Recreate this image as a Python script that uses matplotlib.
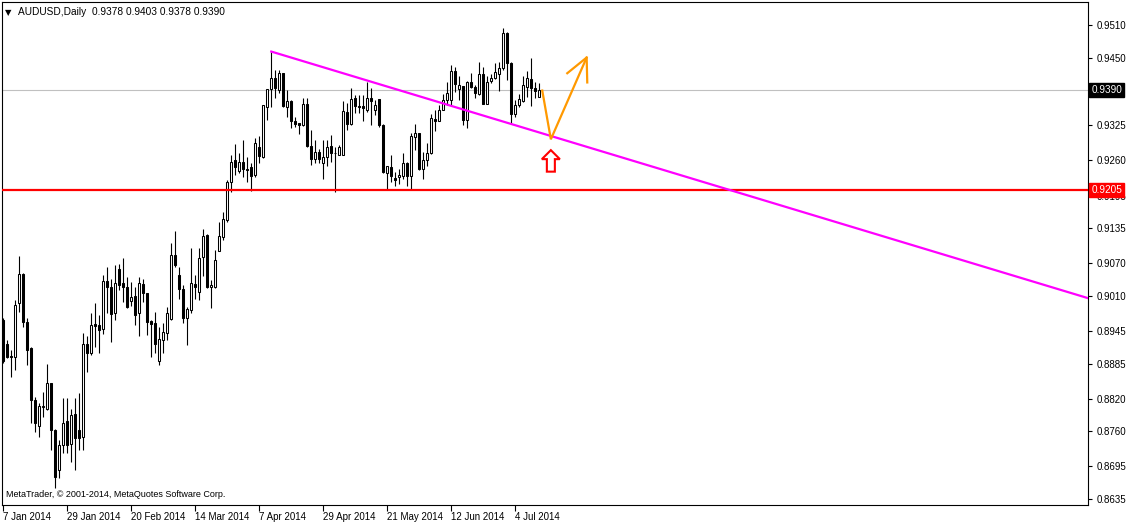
#!/usr/bin/env python3

from matplotlib.patches import Polygon
from matplotlib.pyplot import close, figure, savefig, setp
from matplotlib.transforms import blended_transform_factory

# AUDUSD daily bars, 7 Jan 2014 .. 14 Jul 2014 (one entry per trading day)
OPENS = [
    0.8965, 0.8921, 0.8899, 0.8897, 0.8996, 0.9050, 0.8962, 0.8913, 0.8818, 0.8770,
    0.8804, 0.8802, 0.8849, 0.8762, 0.8689, 0.8735, 0.8779, 0.8737, 0.8792, 0.8762,
    0.8749, 0.8922, 0.8905, 0.8958, 0.8956, 0.8948, 0.9038, 0.9027, 0.8978, 0.9059,
    0.9033, 0.9026, 0.9000, 0.9009, 0.8979, 0.9032, 0.9015, 0.8964, 0.8960, 0.8890,
    0.8929, 0.8942, 0.8967, 0.9085, 0.9049, 0.9022, 0.8970, 0.8984, 0.9032, 0.9018,
    0.9081, 0.9122, 0.9026, 0.9027, 0.9093, 0.9119, 0.9150, 0.9221, 0.9260, 0.9241,
    0.9258, 0.9245, 0.9247, 0.9233, 0.9285, 0.9267, 0.9359, 0.9391, 0.9412, 0.9390,
    0.9421, 0.9358, 0.9369, 0.9332, 0.9330, 0.9325, 0.9365, 0.9287, 0.9262, 0.9276,
    0.9255, 0.9267, 0.9287, 0.9274, 0.9270, 0.9270, 0.9350, 0.9327, 0.9375, 0.9360,
    0.9360, 0.9353, 0.9375, 0.9353, 0.9373, 0.9325, 0.9237, 0.9247, 0.9227, 0.9230,
    0.9231, 0.9256, 0.9231, 0.9304, 0.9310, 0.9244, 0.9260, 0.9273, 0.9336, 0.9333,
    0.9354, 0.9372, 0.9372, 0.9426, 0.9391, 0.9397, 0.9335, 0.9405, 0.9396, 0.9383,
    0.9420, 0.9365, 0.9407, 0.9413, 0.9420, 0.9430, 0.9495, 0.9440, 0.9346, 0.9362,
    0.9369, 0.9396, 0.9411, 0.9393, 0.9378,
]
HIGHS = [
    0.8970, 0.8929, 0.8910, 0.9002, 0.9084, 0.9052, 0.8969, 0.8915, 0.8824, 0.8812,
    0.8833, 0.8884, 0.8850, 0.8765, 0.8744, 0.8821, 0.8821, 0.8802, 0.8821, 0.8830,
    0.8941, 0.8935, 0.8978, 0.8996, 0.8975, 0.9048, 0.9064, 0.9042, 0.9067, 0.9069,
    0.9079, 0.9045, 0.9036, 0.9027, 0.9045, 0.9042, 0.9016, 0.8965, 0.8981, 0.8953,
    0.8959, 0.8990, 0.9108, 0.9129, 0.9064, 0.9030, 0.8990, 0.9098, 0.9049, 0.9098,
    0.9133, 0.9125, 0.9039, 0.9095, 0.9147, 0.9165, 0.9224, 0.9270, 0.9290, 0.9274,
    0.9298, 0.9267, 0.9255, 0.9301, 0.9305, 0.9362, 0.9391, 0.9461, 0.9427, 0.9427,
    0.9422, 0.9390, 0.9372, 0.9341, 0.9330, 0.9376, 0.9375, 0.9316, 0.9298, 0.9282,
    0.9298, 0.9298, 0.9307, 0.9285, 0.9288, 0.9369, 0.9366, 0.9393, 0.9381, 0.9381,
    0.9381, 0.9405, 0.9393, 0.9372, 0.9373, 0.9328, 0.9250, 0.9270, 0.9239, 0.9245,
    0.9273, 0.9258, 0.9311, 0.9327, 0.9311, 0.9276, 0.9292, 0.9346, 0.9353, 0.9362,
    0.9383, 0.9405, 0.9436, 0.9433, 0.9415, 0.9397, 0.9407, 0.9421, 0.9399, 0.9442,
    0.9433, 0.9415, 0.9420, 0.9440, 0.9442, 0.9504, 0.9498, 0.9442, 0.9372, 0.9383,
    0.9416, 0.9426, 0.9450, 0.9405, 0.9403,
]
LOWS = [
    0.8886, 0.8895, 0.8861, 0.8873, 0.8981, 0.8952, 0.8882, 0.8775, 0.8759, 0.8750,
    0.8787, 0.8800, 0.8726, 0.8655, 0.8673, 0.8719, 0.8719, 0.8704, 0.8689, 0.8726,
    0.8726, 0.8870, 0.8901, 0.8916, 0.8904, 0.8940, 0.8978, 0.8924, 0.8965, 0.9021,
    0.8999, 0.8987, 0.8991, 0.8956, 0.8935, 0.8999, 0.8938, 0.8898, 0.8904, 0.8882,
    0.8904, 0.8929, 0.8965, 0.9064, 0.9005, 0.8959, 0.8919, 0.8978, 0.9005, 0.9002,
    0.9046, 0.9024, 0.8988, 0.9024, 0.9092, 0.9113, 0.9147, 0.9202, 0.9233, 0.9236,
    0.9230, 0.9221, 0.9204, 0.9230, 0.9255, 0.9264, 0.9335, 0.9359, 0.9375, 0.9384,
    0.9359, 0.9341, 0.9319, 0.9321, 0.9309, 0.9324, 0.9285, 0.9252, 0.9256, 0.9256,
    0.9225, 0.9249, 0.9258, 0.9201, 0.9270, 0.9270, 0.9316, 0.9325, 0.9347, 0.9347,
    0.9332, 0.9350, 0.9325, 0.9344, 0.9322, 0.9236, 0.9206, 0.9221, 0.9212, 0.9216,
    0.9225, 0.9212, 0.9208, 0.9279, 0.9242, 0.9225, 0.9249, 0.9272, 0.9315, 0.9332,
    0.9353, 0.9362, 0.9360, 0.9387, 0.9372, 0.9325, 0.9319, 0.9393, 0.9375, 0.9381,
    0.9364, 0.9364, 0.9403, 0.9410, 0.9389, 0.9427, 0.9408, 0.9327, 0.9341, 0.9358,
    0.9367, 0.9378, 0.9360, 0.9376, 0.9378,
]
CLOSES = [
    0.8889, 0.8897, 0.8898, 0.8993, 0.9050, 0.8962, 0.8910, 0.8818, 0.8775, 0.8807,
    0.8807, 0.8849, 0.8762, 0.8676, 0.8735, 0.8775, 0.8735, 0.8790, 0.8747, 0.8747,
    0.8922, 0.8905, 0.8956, 0.8954, 0.8947, 0.9038, 0.9026, 0.8977, 0.9033, 0.9030,
    0.9026, 0.8990, 0.9007, 0.8975, 0.9033, 0.9015, 0.8962, 0.8958, 0.8922, 0.8930,
    0.8944, 0.8978, 0.9085, 0.9067, 0.9022, 0.8970, 0.8985, 0.9033, 0.9026, 0.9079,
    0.9120, 0.9026, 0.9030, 0.9077, 0.9120, 0.9151, 0.9221, 0.9258, 0.9248, 0.9258,
    0.9245, 0.9243, 0.9231, 0.9293, 0.9268, 0.9362, 0.9391, 0.9413, 0.9393, 0.9421,
    0.9360, 0.9370, 0.9332, 0.9327, 0.9325, 0.9364, 0.9287, 0.9262, 0.9276, 0.9262,
    0.9267, 0.9285, 0.9273, 0.9273, 0.9285, 0.9352, 0.9327, 0.9373, 0.9360, 0.9359,
    0.9356, 0.9376, 0.9369, 0.9362, 0.9325, 0.9239, 0.9249, 0.9231, 0.9224, 0.9233,
    0.9256, 0.9231, 0.9305, 0.9310, 0.9244, 0.9260, 0.9273, 0.9338, 0.9332, 0.9354,
    0.9372, 0.9384, 0.9426, 0.9401, 0.9399, 0.9335, 0.9405, 0.9396, 0.9384, 0.9420,
    0.9365, 0.9405, 0.9413, 0.9424, 0.9430, 0.9495, 0.9440, 0.9346, 0.9362, 0.9373,
    0.9399, 0.9413, 0.9393, 0.9389, 0.9390,
]

DATE_TICKS = [0, 16, 32, 48, 64, 80, 96, 112, 128]
DATE_LABELS = [
    "7 Jan 2014", "29 Jan 2014", "20 Feb 2014", "14 Mar 2014", "7 Apr 2014",
    "29 Apr 2014", "21 May 2014", "12 Jun 2014", "4 Jul 2014",
]
PRICE_TICKS = [
    0.9510, 0.9450, 0.9390, 0.9325, 0.9260, 0.9195, 0.9135, 0.9070,
    0.9010, 0.8945, 0.8885, 0.8820, 0.8760, 0.8695, 0.8635,
]

SUPPORT = 0.9205
TREND_BARS = [67, 272]
TREND_PRICES = [0.9461, 0.9004]
FORECAST_BARS = [134.75, 136.9, 145.85]
FORECAST_PRICES = [0.9389, 0.9299, 0.9450]
ARROW_WING_BARS = [141.0, 145.85, 146.0]
ARROW_WING_PRICES = [0.9421, 0.9450, 0.9404]
SIGNAL_BAR = 136.9
SIGNAL_TIP = 0.9279

W, H = 1129, 522
FONT = "Liberation Sans"


def draw_candles(ax):
    xs = list(range(len(CLOSES)))
    ax.vlines(xs, LOWS, HIGHS, color="black", linewidth=0.8, zorder=2)
    bottoms = [min(o, c) for o, c in zip(OPENS, CLOSES)]
    heights = [max(abs(c - o), 0.00002) for o, c in zip(OPENS, CLOSES)]
    faces = ["white" if c >= o else "black" for o, c in zip(OPENS, CLOSES)]
    ax.bar(xs, heights, bottom=bottoms, width=0.5, color=faces,
           edgecolor="black", linewidth=0.75, zorder=3)


def draw_signal(ax, bar, tip):
    px_x = 0.25          # one pixel in bar units
    px_y = 1 / 5417.0    # one pixel in price units
    base = tip - 9 * px_y
    bottom = tip - 21.5 * px_y
    head = 9 * px_x
    shaft = 4 * px_x
    pts = [
        (bar, tip), (bar + head, base), (bar + shaft, base), (bar + shaft, bottom),
        (bar - shaft, bottom), (bar - shaft, base), (bar - head, base),
    ]
    ax.add_patch(Polygon(pts, closed=True, facecolor="white", edgecolor="red",
                         linewidth=1.5, zorder=6))


def price_box(ax, price, face):
    trans = blended_transform_factory(ax.transAxes, ax.transData)
    ax.text(1.003, price, "{:.4f}".format(price), transform=trans,
            ha="left", va="center", color="white", fontsize=7.2, family=FONT,
            bbox=dict(boxstyle="square,pad=0.2", fc=face, ec=face),
            zorder=10, clip_on=False)


def main():
    fig = figure(figsize=(W / 100, H / 100), dpi=100)
    ax = fig.add_axes([2 / W, 17 / H, 1086 / W, 503 / H])
    ax.set_xlim(-0.33, 271.2)
    ax.set_ylim(0.86239, 0.95525)

    draw_candles(ax)
    ax.axhline(CLOSES[-1], color="#c0c0c0", linewidth=0.8, zorder=1)
    ax.axhline(SUPPORT, color="red", linewidth=1.6, zorder=4)
    ax.plot(TREND_BARS, TREND_PRICES, color="magenta", linewidth=1.6, zorder=4)
    ax.plot(FORECAST_BARS, FORECAST_PRICES, color="#ff9900", linewidth=1.6,
            zorder=5, solid_joinstyle="miter")
    ax.plot(ARROW_WING_BARS, ARROW_WING_PRICES, color="#ff9900", linewidth=1.6,
            zorder=5)
    draw_signal(ax, SIGNAL_BAR, SIGNAL_TIP)

    # the current-price box stands in for its own tick label
    ax.yaxis.tick_right()
    ax.set_yticks(PRICE_TICKS)
    ax.set_yticklabels(["" if p == CLOSES[-1] else "{:.4f}".format(p)
                        for p in PRICE_TICKS])
    ax.tick_params(axis="y", length=3, width=0.8, pad=3, labelsize=7)
    ax.set_xticks(DATE_TICKS)
    ax.set_xticklabels(DATE_LABELS)
    ax.tick_params(axis="x", length=4, width=0.8, pad=1, labelsize=7)
    setp(ax.get_xticklabels(), ha="left", family=FONT)
    setp(ax.get_yticklabels(), family=FONT)
    for spine in ax.spines.values():
        spine.set_linewidth(0.8)

    price_box(ax, CLOSES[-1], "black")
    price_box(ax, SUPPORT, "red")

    ax.text(0.003, 0.988, "\u25bc", transform=ax.transAxes, fontsize=6,
            va="top", ha="left", family="DejaVu Sans")
    ax.text(0.0145, 0.99, "AUDUSD,Daily  {:.4f} {:.4f} {:.4f} {:.4f}".format(
        OPENS[-1], HIGHS[-1], LOWS[-1], CLOSES[-1]), transform=ax.transAxes,
        fontsize=7.3, va="top", ha="left", family=FONT)
    ax.text(0.004, 0.012, "MetaTrader, \u00a9 2001-2014, MetaQuotes Software Corp.",
            transform=ax.transAxes, fontsize=6.5, va="bottom", ha="left",
            family=FONT)

    savefig("out.png", dpi=100)
    close(fig)


if __name__ == "__main__":
    main()
